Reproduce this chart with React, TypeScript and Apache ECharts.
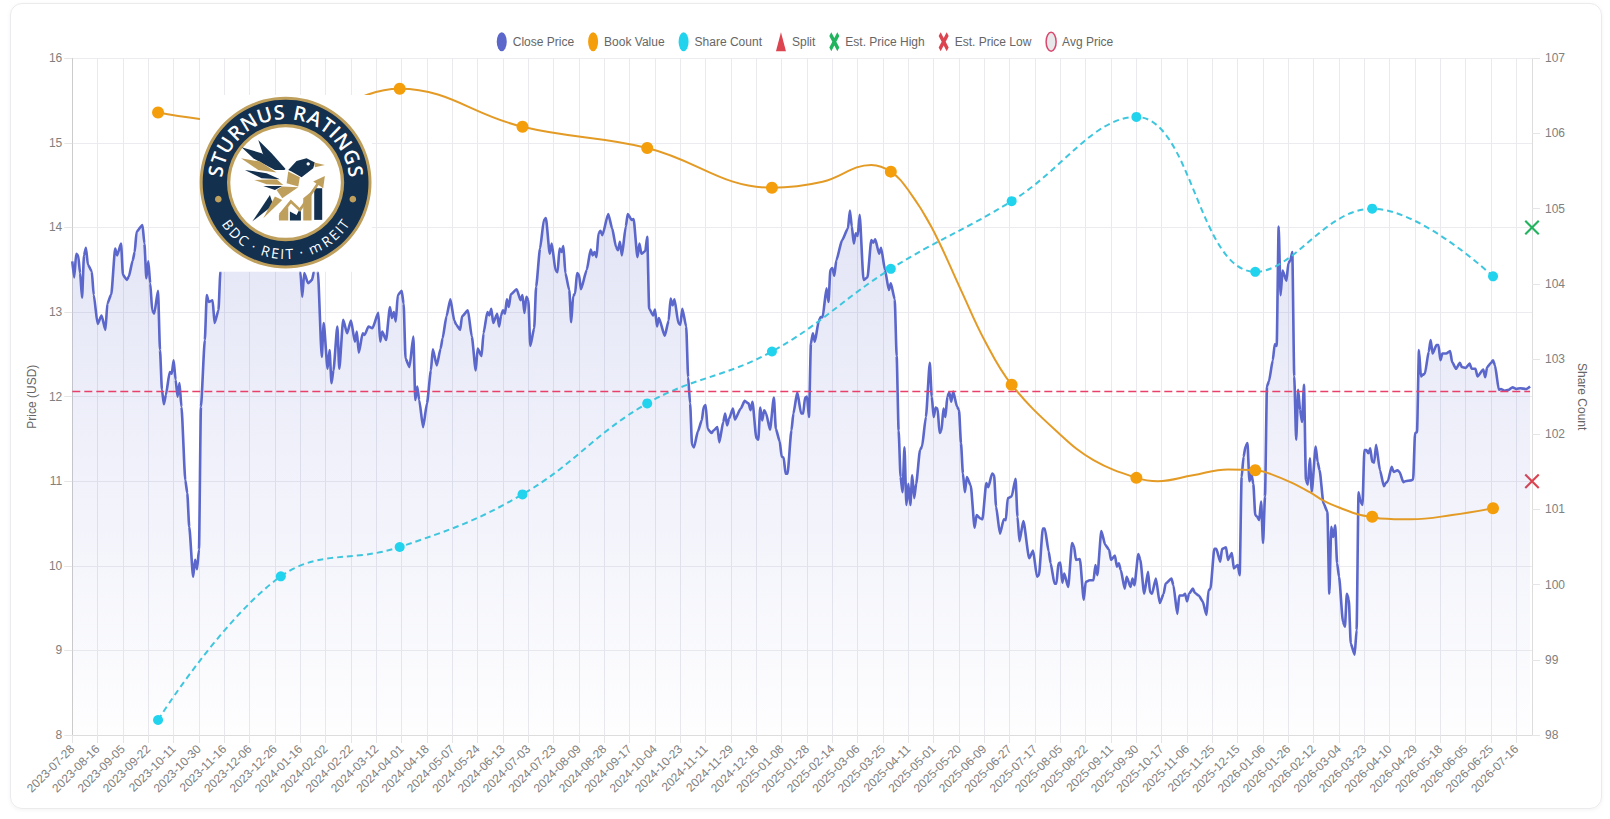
import React, { useEffect, useRef } from "react";
import * as echarts from "echarts";

const tickLabels = ["2023-07-28","2023-08-16","2023-09-05","2023-09-22","2023-10-11","2023-10-30","2023-11-16","2023-12-06","2023-12-26","2024-01-16","2024-02-02","2024-02-22","2024-03-12","2024-04-01","2024-04-18","2024-05-07","2024-05-24","2024-06-13","2024-07-03","2024-07-23","2024-08-09","2024-08-28","2024-09-17","2024-10-04","2024-10-23","2024-11-11","2024-11-29","2024-12-18","2025-01-08","2025-01-28","2025-02-14","2025-03-06","2025-03-25","2025-04-11","2025-05-01","2025-05-20","2025-06-09","2025-06-27","2025-07-17","2025-08-05","2025-08-22","2025-09-11","2025-09-30","2025-10-17","2025-11-06","2025-11-25","2025-12-15","2026-01-06","2026-01-26","2026-02-12","2026-03-04","2026-03-23","2026-04-10","2026-04-29","2026-05-18","2026-06-05","2026-06-25","2026-07-16"];
const TRADING_DAYS_PER_TICK = 13;
const CATEGORY_COUNT = 750;

// [trading-day index, close price] at its turning points
const closeReadings: [number, number][] = [
[0,13.60],[1,13.41],[2,13.69],[3,13.67],[4,13.46],[5,13.17],[6,13.67],[7,13.76],[8,13.56],[10,13.48],[11,13.20],[13,12.86],[15,12.96],[17,12.79],[18,13.10],[20,13.21],[22,13.75],[23,13.67],[25,13.81],[26,13.44],[28,13.38],[29,13.42],[31,13.61],[32,13.71],[33,13.95],[36,14.03],[37,13.81],[38,13.40],[39,13.60],[40,13.34],[41,13.02],[42,12.98],[44,13.25],[45,12.55],[46,12.08],[47,11.91],[48,12.02],[50,12.29],[51,12.27],[52,12.43],[53,12.20],[54,12.00],[55,12.16],[56,11.88],[58,11.01],[59,10.86],[60,10.46],[62,9.87],[63,10.07],[64,9.96],[65,10.19],[66,11.88],[68,12.67],[69,13.20],[70,13.12],[72,13.14],[73,12.87],[75,13.02],[76,13.48],
// behind the logo: not visible, estimated
[78,14.00],[82,14.20],[87,14.05],[92,14.35],[97,14.15],[102,14.40],[107,14.10],[112,14.00],
[117,13.48],[118,13.18],[119,13.46],[121,13.34],[123,13.38],[124,13.48],[125,13.73],[126,13.48],[128,12.47],[129,12.87],[131,12.33],[132,12.55],[133,12.16],[134,12.31],[136,12.83],[137,12.33],[139,12.91],[141,12.75],[143,12.90],[145,12.65],[146,12.77],[147,12.52],[149,12.75],[150,12.73],[152,12.83],[154,12.81],[157,12.99],[158,12.65],[159,12.77],[161,12.67],[163,13.06],[164,12.93],[165,13.00],[166,12.89],[167,13.20],[169,13.25],[170,13.10],[171,12.45],[173,12.35],[175,12.71],[176,11.96],[177,12.12],[178,11.96],[180,11.64],[182,11.92],[184,12.31],[185,12.56],[187,12.37],[189,12.57],[190,12.69],[192,12.95],[194,13.15],[196,12.90],[197,12.85],
[199,12.79],[200,12.95],[203,13.02],[205,12.71],[207,12.31],[208,12.57],[210,12.48],[211,12.75],[213,13.00],[214,12.96],[215,13.04],[216,12.87],[218,12.98],[219,12.83],[220,12.96],[221,13.02],[222,12.98],[223,13.15],[224,13.06],[225,13.21],[228,13.27],[230,13.14],[231,13.20],[232,12.99],[233,13.18],[234,13.14],[235,12.60],[237,12.81],[238,13.30],[240,13.75],[242,14.09],[243,14.11],[245,13.69],[246,13.81],[248,13.49],[249,13.47],[250,13.75],[251,13.71],[252,13.78],[253,13.46],[255,13.26],[256,12.88],[257,13.19],[258,13.22],[259,13.46],[260,13.44],[261,13.27],[264,13.50],[266,13.74],[267,13.67],[268,13.71],[269,13.65],[270,13.93],[271,13.96],[272,13.91],[275,14.16],[277,13.99],[279,13.77],[280,13.73],[281,13.83],[282,13.67],[284,14.01],[285,14.16],[287,14.09],[288,14.10],[290,13.65],[291,13.81],[292,13.69],[294,13.72],[295,13.89],[296,13.04],[298,12.96],[299,13.03],[300,12.83],[301,12.93],[304,12.72],[306,12.90],[307,13.16],[308,13.08],[309,13.15],[311,12.87],[312,12.85],[313,13.04],[315,12.83],[316,12.23],[317,11.92],[318,11.43],[319,11.40],[321,11.59],[323,11.72],[324,11.88],[325,11.90],[326,11.62],[328,11.57],[329,11.60],[331,11.64],[332,11.46],[334,11.70],[335,11.80],[336,11.66],[337,11.74],[339,11.86],[340,11.73],[343,11.86],[345,11.95],[347,11.92],[348,11.84],[349,11.94],[351,11.51],[352,11.49],[353,11.87],[354,11.72],[355,11.84],[356,11.80],[358,11.61],[360,11.99],[361,11.62],[363,11.47],[364,11.29],[365,11.28],[366,11.09],[367,11.09],[369,11.60],[370,11.80],[372,12.05],[374,11.80],[375,11.80],[376,11.99],[377,12.00],[378,11.76],[379,12.63],[380,12.75],[381,12.65],[383,12.89],[384,12.94],[385,12.94],[387,13.28],[388,13.12],[389,13.50],[390,13.52],[391,13.43],[392,13.61],[395,13.85],[398,13.99],[399,14.20],[400,14.01],[401,13.81],[402,13.93],[403,13.90],[404,14.15],[406,13.38],[408,13.41],[410,13.85],[411,13.82],[412,13.86],[414,13.69],[415,13.76],[417,13.50],[419,13.26],[420,13.34],[422,13.15],[423,12.48],[424,11.60],[425,11.05],[426,10.87],[427,11.40],[428,10.72],[429,10.97],[430,10.72],[431,11.07],[432,10.80],[433,10.97],[435,11.37],[436,11.41],[438,11.76],[440,12.40],[441,12.00],[442,11.76],[443,11.87],[444,11.86],[445,11.57],[446,11.60],[447,11.86],[448,11.76],[449,12.00],[450,12.05],[451,11.94],[452,12.06],[454,11.88],[455,11.84],[456,11.45],[457,11.09],[458,10.87],[459,11.05],[461,10.95],[463,10.45],[464,10.60],[466,10.56],[467,10.55],[469,10.98],[470,10.93],[472,11.09],[473,11.07],[474,10.70],[476,10.38],[478,10.55],[479,10.54],[480,10.80],[482,10.82],[484,11.03],[485,10.58],[486,10.29],[488,10.53],[491,10.09],[493,10.18],[495,9.87],[496,9.89],[498,10.44],[499,10.44],[501,10.17],[502,10.03],[504,9.79],[505,9.79],[506,10.03],[507,10.04],[508,9.80],[509,9.91],[511,9.75],[513,10.27],[514,10.23],[515,10.07],[517,10.08],[519,9.60],[520,9.81],[522,9.83],[524,9.83],[525,10.01],[526,9.89],[528,10.41],[530,10.25],[532,10.19],[533,10.07],[535,10.12],[536,9.99],[537,10.03],[538,9.95],[540,9.73],[541,9.87],[543,9.75],[544,9.85],[545,9.77],[547,10.14],[548,10.07],[550,9.67],[552,9.93],[553,9.69],[554,9.67],[556,9.85],[558,9.56],[560,9.67],[561,9.79],[564,9.85],[565,9.77],[567,9.43],[568,9.65],[570,9.65],[571,9.67],[572,9.58],[573,9.67],[575,9.73],[576,9.68],[578,9.65],[580,9.58],[582,9.42],[583,9.71],[584,9.73],[586,10.20],[587,10.20],[589,10.05],[590,10.20],[592,10.22],[593,10.07],[595,10.15],[596,9.97],[598,10.01],[599,9.89],
[600,11.05],[601,11.29],[602,11.41],[603,11.45],[604,11.00],[605,11.09],[606,10.97],[607,10.60],[608,10.58],[609,10.54],[610,10.76],[611,10.27],[612,10.82],[613,12.12],[614,12.18],[616,12.43],[617,12.62],[618,12.60],[619,14.01],[620,13.20],[621,13.49],[623,13.37],[624,13.58],[625,13.61],[626,13.71],[627,12.24],[628,11.49],[629,12.08],[630,11.84],[631,11.70],[632,12.14],[633,11.01],[634,10.96],[635,11.27],[636,10.88],[638,11.41],[639,11.23],[640,11.13],[642,10.74],[644,10.64],[645,9.67],[646,10.46],[647,10.34],[648,10.48],[649,10.03],[650,9.87],[652,9.34],[653,9.28],[654,9.67],[655,9.60],[656,9.08],[658,8.95],[659,9.24],[660,10.87],[661,10.76],[662,10.72],[663,11.37],[664,11.37],[665,11.33],[666,11.39],[667,11.23],[668,11.22],[669,11.43],[671,11.13],[673,10.94],[674,10.98],[675,11.00],[677,11.17],[678,11.11],[680,11.13],[681,11.11],[683,10.99],[684,11.00],[687,11.01],[688,11.02],[689,11.57],[690,11.58],[691,12.55],[692,12.24],[693,12.26],[694,12.27],[696,12.53],[697,12.67],[698,12.51],[700,12.61],[701,12.61],[702,12.43],[703,12.51],[705,12.51],[707,12.54],[708,12.41],[710,12.33],[712,12.40],[713,12.35],[715,12.34],[717,12.39],[718,12.33],[720,12.33],[721,12.24],[724,12.32],[725,12.23],[726,12.35],[728,12.40],[729,12.43],[730,12.37],[732,12.08],[733,12.09],[735,12.07],[737,12.08],[739,12.11],[741,12.09],[743,12.10],[746,12.09],[748,12.12]
];

const reportDays = [44,107,168,231,295,359,420,482,546,607,667,729];
const bookValues = [15.36,15.2,15.64,15.19,14.94,14.47,14.66,12.14,11.04,11.13,10.58,10.68];
const shareCounts = [98.2,100.11,100.5,101.2,102.41,103.1,104.2,105.1,106.22,104.16,105.0,104.1];
// readings taken off the book-value curve between its markers
const bookCurveReadings: [number, number][] = [
[385,14.54],[410,14.74],[429,14.44],[441,14.0],[456,13.26],[468,12.67],[507,11.55],[524,11.25],[557,11.0],[575,11.07],[593,11.14],[612,11.11],[625,10.99],[635,10.87],[642,10.77],[651,10.68],[661,10.60],[671,10.56],[687,10.55],[708,10.60]
];
const avgPrice = 12.06;
const estHigh = 14.0;
const estLow = 11.0;
const LAST_CLOSE_DAY = 748;
const EST_DAY = 749;

const FONT = "'Liberation Sans', Arial, sans-serif";
const X_SYMBOL = "path://M0,1 L1,0 L5,4 L9,0 L10,1 L6,5 L10,9 L9,10 L5,6 L1,10 L0,9 L4,5 Z";
const X_LEGEND = "path://M0,2 L2,0 L5,3 L8,0 L10,2 L7,5 L10,8 L8,10 L5,7 L2,10 L0,8 L3,5 Z";
const ELLIPSE = "path://M5,0 A5,5 0 1 1 5,10 A5,5 0 1 1 5,0 Z";
const TRIANGLE = "path://M5,0 L10,10 L0,10 Z";

function addWeekdays(iso: string, n: number) {
  const d = new Date(iso + "T00:00:00Z");
  let left = n;
  while (left > 0) {
    d.setUTCDate(d.getUTCDate() + 1);
    const w = d.getUTCDay();
    if (w !== 0 && w !== 6) left--;
  }
  return d.toISOString().slice(0, 10);
}
const categories: string[] = [];
for (let i = 0; i < CATEGORY_COUNT; i++) {
  const k = Math.min(Math.floor(i / TRADING_DAYS_PER_TICK), tickLabels.length - 1);
  categories.push(addWeekdays(tickLabels[k], i - k * TRADING_DAYS_PER_TICK));
}
const bookLine = [
  ...reportDays.map((d, i) => ({ value: [d, bookValues[i]] })),
  ...bookCurveReadings.map((p) => ({ value: p, symbol: "none" })),
].sort((a, b) => a.value[0] - b.value[0]);

const NAVY = "#13304f";
const GOLD = "#bf9f5c";
const Z = 100;
function poly(points: number[][], fill: string) {
  return { type: "polygon", z: Z, shape: { points }, style: { fill } };
}
const charWidths: Record<string, number> = { S: 0.58, T: 0.58, U: 0.74, R: 0.68, N: 0.8, " ": 0.3, A: 0.7, I: 0.32, G: 0.74, B: 0.65, D: 0.72, C: 0.63, E: 0.56, m: 0.95, "·": 0.3 };
function arcLetters(text: string, spanDeg: number, radius: number, font: string, atTop: boolean, cx: number, cy: number) {
  const chars = text.split("");
  const total = chars.reduce((s, c) => s + charWidths[c], 0);
  let run = 0;
  const out: any[] = [];
  chars.forEach((ch) => {
    const mid = run + charWidths[ch] / 2;
    run += charWidths[ch];
    if (ch === " ") return;
    const a = ((-spanDeg / 2 + (spanDeg * mid) / total) * Math.PI) / 180;
    out.push({ type: "text", z: Z,
      x: cx + radius * Math.sin(a), y: atTop ? cy - radius * Math.cos(a) : cy + radius * Math.cos(a),
      rotation: atTop ? -a : a,
      style: { text: ch, fill: "#ffffff", font, textAlign: "center", textVerticalAlign: "middle" } });
  });
  return out;
}
function logoChildren() {
  const cx = 272, cy = 278, items: any[] = [];
  items.push({ type: "rect", z: Z, shape: { x: 15, y: 15, width: 516, height: 531 }, style: { fill: "#ffffff" } });
  items.push({ type: "circle", z: Z, shape: { cx, cy, r: 258 }, style: { fill: GOLD } });
  items.push({ type: "circle", z: Z, shape: { cx, cy, r: 249 }, style: { fill: NAVY } });
  items.push({ type: "circle", z: Z, shape: { cx, cy, r: 176 }, style: { fill: GOLD } });
  items.push({ type: "circle", z: Z, shape: { cx, cy, r: 166 }, style: { fill: "#ffffff" } });
  items.push({ type: "circle", z: Z, shape: { cx: cx - 202, cy: cy + 50, r: 10 }, style: { fill: GOLD } });
  items.push({ type: "circle", z: Z, shape: { cx: cx + 202, cy: cy + 50, r: 10 }, style: { fill: GOLD } });
  items.push(...arcLetters("STURNUS RATINGS", 172, 213, "600 60px 'Open Sans', sans-serif", true, cx, cy));
  items.push(...arcLetters("BDC · REIT · mREIT", 116, 213, "500 42px 'Open Sans', sans-serif", false, cx, cy));
  // bird
  items.push(poly([[190,150],[230,190],[272,237],[262,240],[205,195]], NAVY));
  items.push(poly([[140,172],[200,190],[272,240],[240,240],[175,205]], NAVY));
  items.push(poly([[138,205],[195,215],[245,248],[190,240]], GOLD));
  items.push(poly([[150,240],[215,250],[255,268],[200,265]], NAVY));
  items.push(poly([[178,270],[245,268],[265,285],[215,283]], GOLD));
  items.push(poly([[205,288],[262,288],[240,300]], NAVY));
  items.push(poly([[280,240],[305,213],[335,205],[360,218],[355,235],[320,262],[290,245]], NAVY));
  items.push(poly([[358,218],[390,225],[360,232]], GOLD));
  items.push({ type: "circle", z: Z, shape: { cx: 340, cy: 222, r: 5 }, style: { fill: "#ffffff" } });
  items.push(poly([[280,245],[315,262],[310,290],[275,280]], GOLD));
  items.push(poly([[262,290],[310,292],[262,325],[245,300]], GOLD));
  items.push(poly([[225,315],[172,395],[235,345]], NAVY));
  items.push(poly([[240,320],[262,330],[205,385]], GOLD));
  items.push(poly([[358,295],[382,295],[382,390],[358,390]], NAVY));
  items.push(poly([[325,325],[350,305],[350,392],[325,392]], GOLD));
  items.push(poly([[285,365],[305,375],[318,350],[318,392],[285,392]], NAVY));
  items.push(poly([[252,375],[280,350],[280,392],[252,392]], GOLD));
  items.push({ type: "polyline", z: Z, shape: { points: [[255,375],[288,335],[315,360],[370,280]] }, style: { stroke: GOLD, lineWidth: 8, fill: "none" } });
  items.push(poly([[390,258],[385,295],[355,275]], GOLD));
  return items;
}

export default function App() {
  const ref = useRef<HTMLDivElement>(null);
  useEffect(() => {
    document.body.style.margin = "0";
    document.body.style.background = "#ffffff";
    const chart = echarts.init(ref.current!, undefined, { renderer: "svg" });
    chart.setOption({
      animation: false,
      textStyle: { fontFamily: FONT },
      grid: { left: 72.3, right: 78, top: 58.3, bottom: 84, containLabel: false },
      legend: {
        top: 26.5, left: "center", itemWidth: 10, itemHeight: 19, itemGap: 14, symbolKeepAspect: false,
        textStyle: { color: "#666666", fontSize: 12, fontFamily: FONT, padding: [0, 0, 0, 1] },
        data: [
          { name: "Close Price", icon: ELLIPSE, itemStyle: { color: "#5b67ca", opacity: 1 } },
          { name: "Book Value", icon: ELLIPSE, itemStyle: { color: "#f59e0b", opacity: 1 } },
          { name: "Share Count", icon: ELLIPSE, itemStyle: { color: "#22d3ee", opacity: 1 } },
          { name: "Split", icon: TRIANGLE, itemStyle: { color: "#dc4450", opacity: 1 } },
          { name: "Est. Price High", icon: X_LEGEND, itemStyle: { color: "#22b35e", opacity: 1 } },
          { name: "Est. Price Low", icon: X_LEGEND, itemStyle: { color: "#dc4450", opacity: 1 } },
          { name: "Avg Price", icon: ELLIPSE, itemStyle: { color: "#e8e8ea", borderColor: "#d9486e", borderWidth: 1.5, opacity: 1 } },
        ],
      },
      xAxis: {
        type: "category", data: categories, boundaryGap: false,
        axisLine: { lineStyle: { color: "#dddddd" } },
        axisTick: { show: true, interval: TRADING_DAYS_PER_TICK - 1, length: 8, lineStyle: { color: "#e5e5e5" } },
        splitLine: { show: true, interval: TRADING_DAYS_PER_TICK - 1, lineStyle: { color: "#e9e9ee" } },
        axisLabel: { interval: TRADING_DAYS_PER_TICK - 1, rotate: 45, color: "#808080", fontSize: 12, margin: 12, fontFamily: FONT },
      },
      yAxis: [
        { type: "value", min: 8, max: 16, interval: 1, name: "Price (USD)", nameLocation: "middle", nameGap: 31,
          nameTextStyle: { color: "#666666", fontSize: 12, fontFamily: FONT },
          axisLine: { show: true, lineStyle: { color: "#cccccc" } },
          axisTick: { show: true, length: 8, lineStyle: { color: "#e5e5e5" } },
          splitLine: { show: true, lineStyle: { color: "#ececf0" } },
          axisLabel: { color: "#808080", fontSize: 12, margin: 10, fontFamily: FONT } },
        { type: "value", min: 98, max: 107, interval: 1, position: "right", name: "Share Count", nameLocation: "middle", nameGap: 37, nameRotate: -90,
          nameTextStyle: { color: "#666666", fontSize: 12, fontFamily: FONT },
          axisLine: { show: true, lineStyle: { color: "#dddddd" } },
          axisTick: { show: true, length: 8, lineStyle: { color: "#e5e5e5" } },
          splitLine: { show: false },
          axisLabel: { color: "#808080", fontSize: 12, margin: 13, fontFamily: FONT } },
      ],
      series: [
        { name: "Close Price", type: "line", yAxisIndex: 0, data: closeReadings, showSymbol: false, symbol: "none", smooth: 0.2, smoothMonotone: "x",
          lineStyle: { color: "#5b67ca", width: 2.6 }, itemStyle: { color: "#5b67ca" },
          areaStyle: { color: { type: "linear", x: 0, y: 0, x2: 0, y2: 1, colorStops: [
            { offset: 0, color: "rgba(91,103,202,0.25)" }, { offset: 1, color: "rgba(91,103,202,0.012)" } ] } } },
        { name: "Book Value", type: "line", yAxisIndex: 0, data: bookLine, smooth: 0.4, showSymbol: true, showAllSymbol: true, symbol: "circle", symbolSize: 12,
          lineStyle: { color: "#e39b26", width: 2 }, itemStyle: { color: "#f59e0b" } },
        { name: "Share Count", type: "line", yAxisIndex: 1, data: reportDays.map((d, i) => [d, shareCounts[i]]), smooth: 0.4, showSymbol: true, showAllSymbol: true, symbol: "circle", symbolSize: 10,
          lineStyle: { color: "#3ec6de", width: 2, type: [6, 4] }, itemStyle: { color: "#22d3ee" } },
        { name: "Split", type: "scatter", yAxisIndex: 0, data: [], symbol: "triangle", itemStyle: { color: "#dc4450", opacity: 1 } },
        { name: "Est. Price High", type: "scatter", yAxisIndex: 0, clip: false, data: [[EST_DAY, estHigh]], symbol: X_SYMBOL, symbolSize: 15, itemStyle: { color: "#22b35e", opacity: 1 } },
        { name: "Est. Price Low", type: "scatter", yAxisIndex: 0, clip: false, data: [[EST_DAY, estLow]], symbol: X_SYMBOL, symbolSize: 15, itemStyle: { color: "#dc4450", opacity: 1 } },
        { name: "Avg Price", type: "line", yAxisIndex: 0, data: [[0, avgPrice], [LAST_CLOSE_DAY, avgPrice]], showSymbol: false, symbol: "none",
          lineStyle: { color: "#e8406a", width: 1.6, type: [8, 4] }, itemStyle: { color: "#e8e8ea" } },
      ],
      graphic: [{ type: "group", z: Z, x: 195, y: 90, scaleX: 1 / 3, scaleY: 1 / 3, children: logoChildren() }],
    });
    return () => chart.dispose();
  }, []);
  return (
    <div style={{ position: "absolute", left: 0, top: 0, width: 1610, height: 819, background: "#fff", overflow: "hidden" }}>
      <div style={{ position: "absolute", left: 10, top: 3, width: 1592, height: 806, border: "1px solid #ebebee", borderRadius: 12, boxShadow: "0 1px 4px rgba(0,0,0,0.05)", boxSizing: "border-box" }} />
      <div ref={ref} style={{ position: "absolute", left: 0, top: 0, width: 1610, height: 819 }} />
    </div>
  );
}
